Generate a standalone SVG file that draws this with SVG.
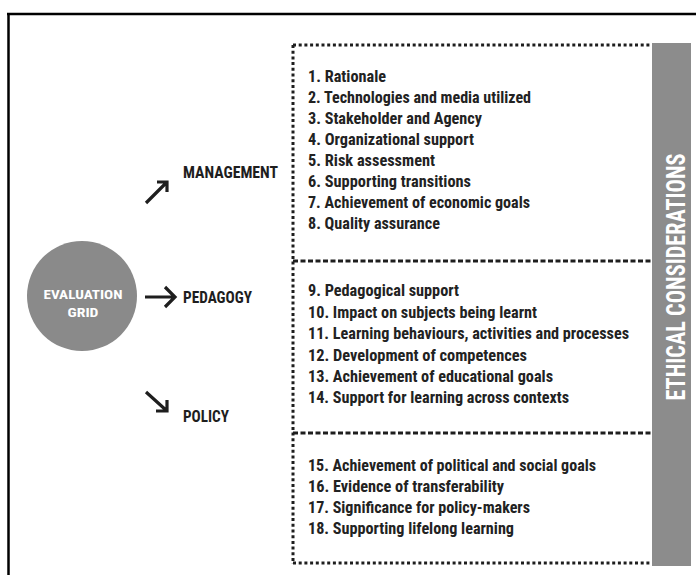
<svg xmlns="http://www.w3.org/2000/svg" width="696" height="575" viewBox="0 0 696 575">
  <style>
    .frame { stroke: #000; stroke-width: 2.5; fill: none; }
    .dots { stroke: #1e1e1e; stroke-width: 3; fill: none; stroke-dasharray: 3 2.7; }
    .dash { stroke: #1e1e1e; stroke-width: 3; fill: none; stroke-dasharray: 5 2.5; }
    .arrow { stroke: #1e1e1e; stroke-width: 3.2; fill: none; stroke-linecap: butt; stroke-linejoin: miter; }
    .t { font-family: "Liberation Sans Narrow", "Roboto Condensed", "DejaVu Sans Condensed", Roboto, sans-serif; font-weight: bold; }
    .item { font-size: 16px; fill: #222; }
    .label { font-size: 16px; fill: #1e1e1e; }
    .white { fill: #fff; }
  </style>

  <!-- outer frame (top and left edges) -->
  <g id="frame">
    <line class="frame" x1="7" y1="14" x2="696" y2="14"/>
    <line class="frame" x1="8.5" y1="13" x2="8.5" y2="575"/>
  </g>

  <!-- central node -->
  <g id="evaluation-grid">
    <circle cx="82" cy="296" r="55" fill="#8a8a8a"/>
    <text class="t white" x="83" y="299" font-size="13.5" text-anchor="middle" textLength="79" lengthAdjust="spacingAndGlyphs">EVALUATION</text>
    <text class="t white" x="83" y="316.5" font-size="13.5" text-anchor="middle" textLength="31" lengthAdjust="spacingAndGlyphs">GRID</text>
  </g>

  <!-- connectors -->
  <g id="connectors">
    <path class="arrow" d="M146,203 L167,182 M157,182 L167,182 L167,192"/>
    <path class="arrow" d="M145,297 L175,297 M165,287 L175,297 L165,307"/>
    <path class="arrow" d="M146,392 L167,411 M156,411 L167,411 L167,400"/>
  </g>

  <g id="management">
    <text class="t label" x="183" y="178" textLength="95" lengthAdjust="spacingAndGlyphs">MANAGEMENT</text>
  </g>
  <g id="pedagogy">
    <text class="t label" x="183" y="303" textLength="69" lengthAdjust="spacingAndGlyphs">PEDAGOGY</text>
  </g>
  <g id="policy">
    <text class="t label" x="183" y="422" textLength="46" lengthAdjust="spacingAndGlyphs">POLICY</text>
  </g>

  <!-- criteria box -->
  <g id="criteria-box">
    <line class="dots" x1="293" y1="45" x2="652" y2="45"/>
    <line class="dots" x1="293" y1="45" x2="293" y2="564"/>
    <line class="dots" x1="293" y1="563" x2="652" y2="563"/>
    <line class="dash" x1="293" y1="261" x2="652" y2="261"/>
    <line class="dash" x1="293" y1="433" x2="652" y2="433"/>
  </g>

  <g id="management-criteria" class="t item">
    <text x="308" y="82" textLength="78" lengthAdjust="spacingAndGlyphs">1. Rationale</text>
    <text x="308" y="103" textLength="223" lengthAdjust="spacingAndGlyphs">2. Technologies and media utilized</text>
    <text x="308" y="124" textLength="174" lengthAdjust="spacingAndGlyphs">3. Stakeholder and Agency</text>
    <text x="308" y="145" textLength="166" lengthAdjust="spacingAndGlyphs">4. Organizational support</text>
    <text x="308" y="166" textLength="127" lengthAdjust="spacingAndGlyphs">5. Risk assessment</text>
    <text x="308" y="187" textLength="163" lengthAdjust="spacingAndGlyphs">6. Supporting transitions</text>
    <text x="308" y="208" textLength="222" lengthAdjust="spacingAndGlyphs">7. Achievement of economic goals</text>
    <text x="308" y="229" textLength="132" lengthAdjust="spacingAndGlyphs">8. Quality assurance</text>
  </g>

  <g id="pedagogy-criteria" class="t item">
    <text x="308" y="296" textLength="151" lengthAdjust="spacingAndGlyphs">9. Pedagogical support</text>
    <text x="308" y="317.5" textLength="229" lengthAdjust="spacingAndGlyphs">10. Impact on subjects being learnt</text>
    <text x="308" y="339" textLength="321" lengthAdjust="spacingAndGlyphs">11. Learning behaviours, activities and processes</text>
    <text x="308" y="360.5" textLength="219" lengthAdjust="spacingAndGlyphs">12. Development of competences</text>
    <text x="308" y="382" textLength="245" lengthAdjust="spacingAndGlyphs">13. Achievement of educational goals</text>
    <text x="308" y="403" textLength="261" lengthAdjust="spacingAndGlyphs">14. Support for learning across contexts</text>
  </g>

  <g id="policy-criteria" class="t item">
    <text x="308" y="471" textLength="288" lengthAdjust="spacingAndGlyphs">15. Achievement of political and social goals</text>
    <text x="308" y="492" textLength="196" lengthAdjust="spacingAndGlyphs">16. Evidence of transferability</text>
    <text x="308" y="513" textLength="222" lengthAdjust="spacingAndGlyphs">17. Significance for policy-makers</text>
    <text x="308" y="534" textLength="206" lengthAdjust="spacingAndGlyphs">18. Supporting lifelong learning</text>
  </g>

  <!-- side bar -->
  <g id="ethical-considerations">
    <rect x="652" y="43" width="39" height="523" fill="#8c8c8c"/>
    <text class="t white" transform="translate(685,277) rotate(-90)" font-size="25" text-anchor="middle" textLength="247" lengthAdjust="spacingAndGlyphs">ETHICAL CONSIDERATIONS</text>
  </g>
</svg>
